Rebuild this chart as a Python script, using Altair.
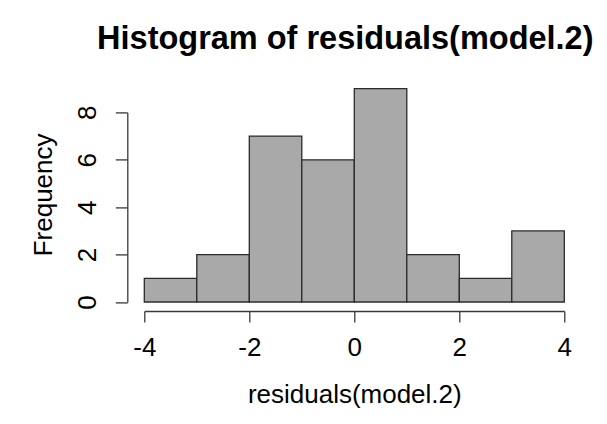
import altair as alt
import pandas as pd

bin_start = [-4, -3, -2, -1, 0, 1, 2, 3]
bin_end = [-3, -2, -1, 0, 1, 2, 3, 4]
counts = [1, 2, 7, 6, 9, 2, 1, 3]
x_ticks = [-4, -2, 0, 2, 4]
y_ticks = [0, 2, 4, 6, 8]

df = pd.DataFrame({"start": bin_start, "end": bin_end, "count": counts})

FONT = "Liberation Sans"
AX = "#3a3a3a"
LBL = "datum.value < 0 ? '-' + abs(datum.value) : '' + datum.value"

bars = alt.Chart(df).mark_rect(fill="#a9a9a9", stroke="#2b2b2b", strokeWidth=1.3).encode(
    x=alt.X("start:Q",
            scale=alt.Scale(domain=[-4, 4], nice=False, zero=False),
            axis=alt.Axis(values=x_ticks, grid=False, offset=9, tickSize=11,
                          domainColor=AX, tickColor=AX, domainWidth=1.3, tickWidth=1.3,
                          labelFont=FONT, labelFontSize=26, labelColor="black",
                          labelPadding=13, labelFlush=False, labelExpr=LBL,
                          title="residuals(model.2)", titleFont=FONT, titleFontSize=26,
                          titleFontWeight="normal", titleColor="black",
                          titleBaseline="middle", titleY=84)),
    x2="end:Q",
    y=alt.Y("count:Q",
            scale=alt.Scale(domain=[0, 8], nice=False),
            axis=alt.Axis(values=y_ticks, grid=False, offset=17, tickSize=12,
                          domainColor=AX, tickColor=AX, domainWidth=1.3, tickWidth=1.3,
                          labelFont=FONT, labelFontSize=26, labelColor="black",
                          labelAngle=270, labelAlign="center", labelBaseline="bottom",
                          labelPadding=15, labelFlush=False,
                          title="Frequency", titleFont=FONT, titleFontSize=26,
                          titleFontWeight="normal", titleColor="black",
                          titleAngle=270, titleBaseline="middle", titleAlign="center",
                          titleX=-84, titleY=82)),
    y2=alt.Y2(datum=0),
)

chart = bars.properties(
    width=420,
    height=189.6,
    autosize=alt.AutoSizeParams(type="none"),
    padding={"left": 136.3, "top": 104.4, "right": 34, "bottom": 113},
    title=alt.TitleParams("Histogram of residuals(model.2)", font=FONT, fontSize=32.5,
                          fontWeight="bold", color="black", anchor="middle",
                          frame="group", offset=33, dx=-9),
).configure_view(stroke=None)

chart.save("out.html", embed_options={"renderer": "svg", "actions": False})
